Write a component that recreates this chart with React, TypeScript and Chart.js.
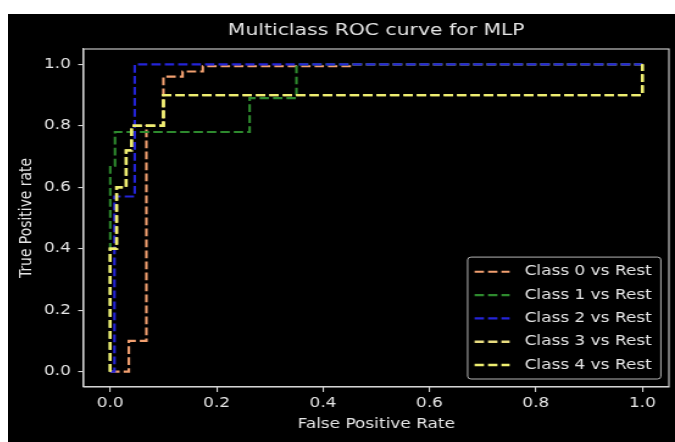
import { useEffect, useRef } from "react";
import { Chart, registerables } from "chart.js";

Chart.register(...registerables);

const chartTitle = "Multiclass ROC curve for MLP";
const xAxisTitle = "False Positive Rate";
const yAxisTitle = "True Positive rate";

const classLabels = ["Class 0 vs Rest", "Class 1 vs Rest", "Class 2 vs Rest", "Class 3 vs Rest", "Class 4 vs Rest"];
const classColors = ["#f2a070", "#2e8a2e", "#2424d8", "#e8dc80", "#eeee70"];

const class0Fpr = [0, 0.035, 0.035, 0.068, 0.068, 0.1, 0.1, 0.136, 0.136, 0.174, 0.174, 0.45, 0.45, 1.0];
const class0Tpr = [0, 0, 0.1, 0.1, 0.8, 0.8, 0.96, 0.96, 0.977, 0.977, 0.994, 0.994, 1.0, 1.0];

const class1Fpr = [0, 0, 0.009, 0.009, 0.262, 0.262, 0.35, 0.35, 1.0];
const class1Tpr = [0, 0.67, 0.67, 0.78, 0.78, 0.89, 0.89, 1.0, 1.0];

const class2Fpr = [0, 0.008, 0.008, 0.046, 0.046, 1.0];
const class2Tpr = [0, 0, 0.57, 0.57, 1.0, 1.0];

const class3Fpr = [0, 0, 0.012, 0.012, 0.03, 0.03, 0.04, 0.04, 0.1, 0.1, 1.0, 1.0];
const class3Tpr = [0, 0.4, 0.4, 0.6, 0.6, 0.72, 0.72, 0.8, 0.8, 0.9, 0.9, 1.0];

const class4Fpr = [0, 0, 0.012, 0.012, 0.03, 0.03, 0.04, 0.04, 0.1, 0.1, 1.0, 1.0];
const class4Tpr = [0, 0.4, 0.4, 0.6, 0.6, 0.72, 0.72, 0.8, 0.8, 0.9, 0.9, 1.0];

const xTicks = [0, 0.2, 0.4, 0.6, 0.8, 1.0];
const xTickLabels = ["0.0", "0.2", "0.4", "0.6", "0.8", "1.0"];
const yTicks = [0, 0.2, 0.4, 0.6, 0.8, 1.0];
const yTickLabels = ["0.0", "0.2", "0.4", "0.6", "0.8", "1.0"];

const FONT = '"DejaVu Sans", sans-serif';
const TEXT = "#e6e6e6";
const AXIS = "#d4d4d4";

export default function App() {
  const ref = useRef<HTMLCanvasElement>(null);

  useEffect(() => {
    const canvas = ref.current;
    if (!canvas) return;
    Chart.defaults.font.family = FONT;

    const series = [
      [class0Fpr, class0Tpr],
      [class1Fpr, class1Tpr],
      [class2Fpr, class2Tpr],
      [class3Fpr, class3Tpr],
      [class4Fpr, class4Tpr],
    ];

    const framePlugin = {
      id: "frame",
      afterDatasetsDraw(chart: any) {
        const { ctx, chartArea: a } = chart;
        ctx.save();
        ctx.strokeStyle = AXIS;
        ctx.lineWidth = 1.1;
        ctx.setLineDash([]);
        ctx.strokeRect(a.left, a.top, a.right - a.left, a.bottom - a.top);
        ctx.restore();
      },
    };

    const overlayPlugin = {
      id: "overlay",
      afterDraw(chart: any) {
        const { ctx, chartArea: a } = chart;
        ctx.save();
        ctx.font = `16.7px ${FONT}`;
        ctx.fillStyle = TEXT;
        ctx.textAlign = "center";
        ctx.textBaseline = "middle";
        ctx.fillText(chartTitle, (a.left + a.right) / 2, 17);

        const fs = 13.9;
        ctx.font = `${fs}px ${FONT}`;
        const dsets = chart.data.datasets;
        const maxText = Math.max(...dsets.map((d: any) => ctx.measureText(d.label).width));
        const sampleOff = 5.7;
        const handle = 28.7;
        const textPad = 12.3;
        const rightPad = 7.4;
        const boxW = sampleOff + handle + textPad + maxText + rightPad;
        const firstRow = 14.7;
        const rowH = 23.3;
        const boxH = firstRow + rowH * (dsets.length - 1) + 14;
        const right = a.right - 6.6;
        const bottom = a.bottom - 8;
        const left = right - boxW;
        const top = bottom - boxH;
        ctx.beginPath();
        (ctx as any).roundRect(left, top, boxW, boxH, 2.8);
        ctx.fillStyle = "rgba(0,0,0,0.8)";
        ctx.fill();
        ctx.strokeStyle = "rgba(225,225,225,0.8)";
        ctx.lineWidth = 1;
        ctx.stroke();
        dsets.forEach((d: any, i: number) => {
          const y = top + firstRow + i * rowH;
          ctx.beginPath();
          ctx.setLineDash(d.borderDash || []);
          ctx.strokeStyle = d.borderColor;
          ctx.lineWidth = d.borderWidth;
          ctx.moveTo(left + sampleOff, y);
          ctx.lineTo(left + sampleOff + handle, y);
          ctx.stroke();
          ctx.setLineDash([]);
          ctx.fillStyle = TEXT;
          ctx.textAlign = "left";
          ctx.textBaseline = "middle";
          ctx.fillText(d.label, left + sampleOff + handle + textPad, y);
        });
        ctx.restore();
      },
    };

    const chart = new Chart(canvas, {
      type: "line",
      data: {
        datasets: series.map(([fpr, tpr], i) => ({
          label: classLabels[i],
          data: fpr.map((x, j) => ({ x, y: tpr[j] })),
          borderColor: classColors[i],
          backgroundColor: classColors[i],
          borderWidth: i >= 3 ? 2.4 : 2.1,
          borderDash: [7.7, 3.3],
          pointRadius: 0,
          fill: false,
          tension: 0,
          order: series.length - 1 - i,
        })),
      },
      options: {
        responsive: false,
        animation: false,
        devicePixelRatio: 1,
        layout: { padding: { top: 35, right: 5, left: 0, bottom: 0 } },
        plugins: {
          legend: { display: false },
          tooltip: { enabled: false },
          title: { display: false },
        },
        scales: {
          x: {
            type: "linear",
            min: -0.05,
            max: 1.05,
            afterBuildTicks: (s: any) => {
              s.ticks = xTicks.map((v) => ({ value: v }));
            },
            afterFit: (s: any) => {
              s.height = 55;
            },
            ticks: {
              callback: (_v: any, i: number) => xTickLabels[i],
              color: TEXT,
              font: { size: 13.9 },
              padding: 3,
              maxRotation: 0,
              autoSkip: false,
            },
            grid: { display: true, drawOnChartArea: false, drawTicks: true, tickLength: 5, color: AXIS, lineWidth: 1.1 },
            border: { display: true, color: AXIS, width: 1.1 },
            title: { display: true, text: xAxisTitle, color: TEXT, font: { size: 13.9 }, padding: { top: 0, bottom: 9 } },
          },
          y: {
            type: "linear",
            min: -0.05,
            max: 1.05,
            afterBuildTicks: (s: any) => {
              s.ticks = yTicks.map((v) => ({ value: v }));
            },
            afterFit: (s: any) => {
              s.width = 62;
            },
            ticks: {
              callback: (_v: any, i: number) => yTickLabels[i],
              color: TEXT,
              font: { size: 13.9 },
              padding: 6,
              autoSkip: false,
            },
            grid: { display: true, drawOnChartArea: false, drawTicks: true, tickLength: 4.5, color: AXIS, lineWidth: 1.1 },
            border: { display: true, color: AXIS, width: 1.1 },
            title: { display: true, text: yAxisTitle, color: TEXT, font: { size: 13.9 }, padding: { top: 7.3, bottom: 0 } },
          },
        },
      },
      plugins: [framePlugin, overlayPlugin],
    } as any);

    return () => chart.destroy();
  }, []);

  return (
    <div style={{ position: "fixed", left: 8, top: 14, width: 667, height: 428, background: "#000" }}>
      <canvas ref={ref} width={547} height={428} style={{ width: "667px", height: "428px", display: "block" }} />
    </div>
  );
}
